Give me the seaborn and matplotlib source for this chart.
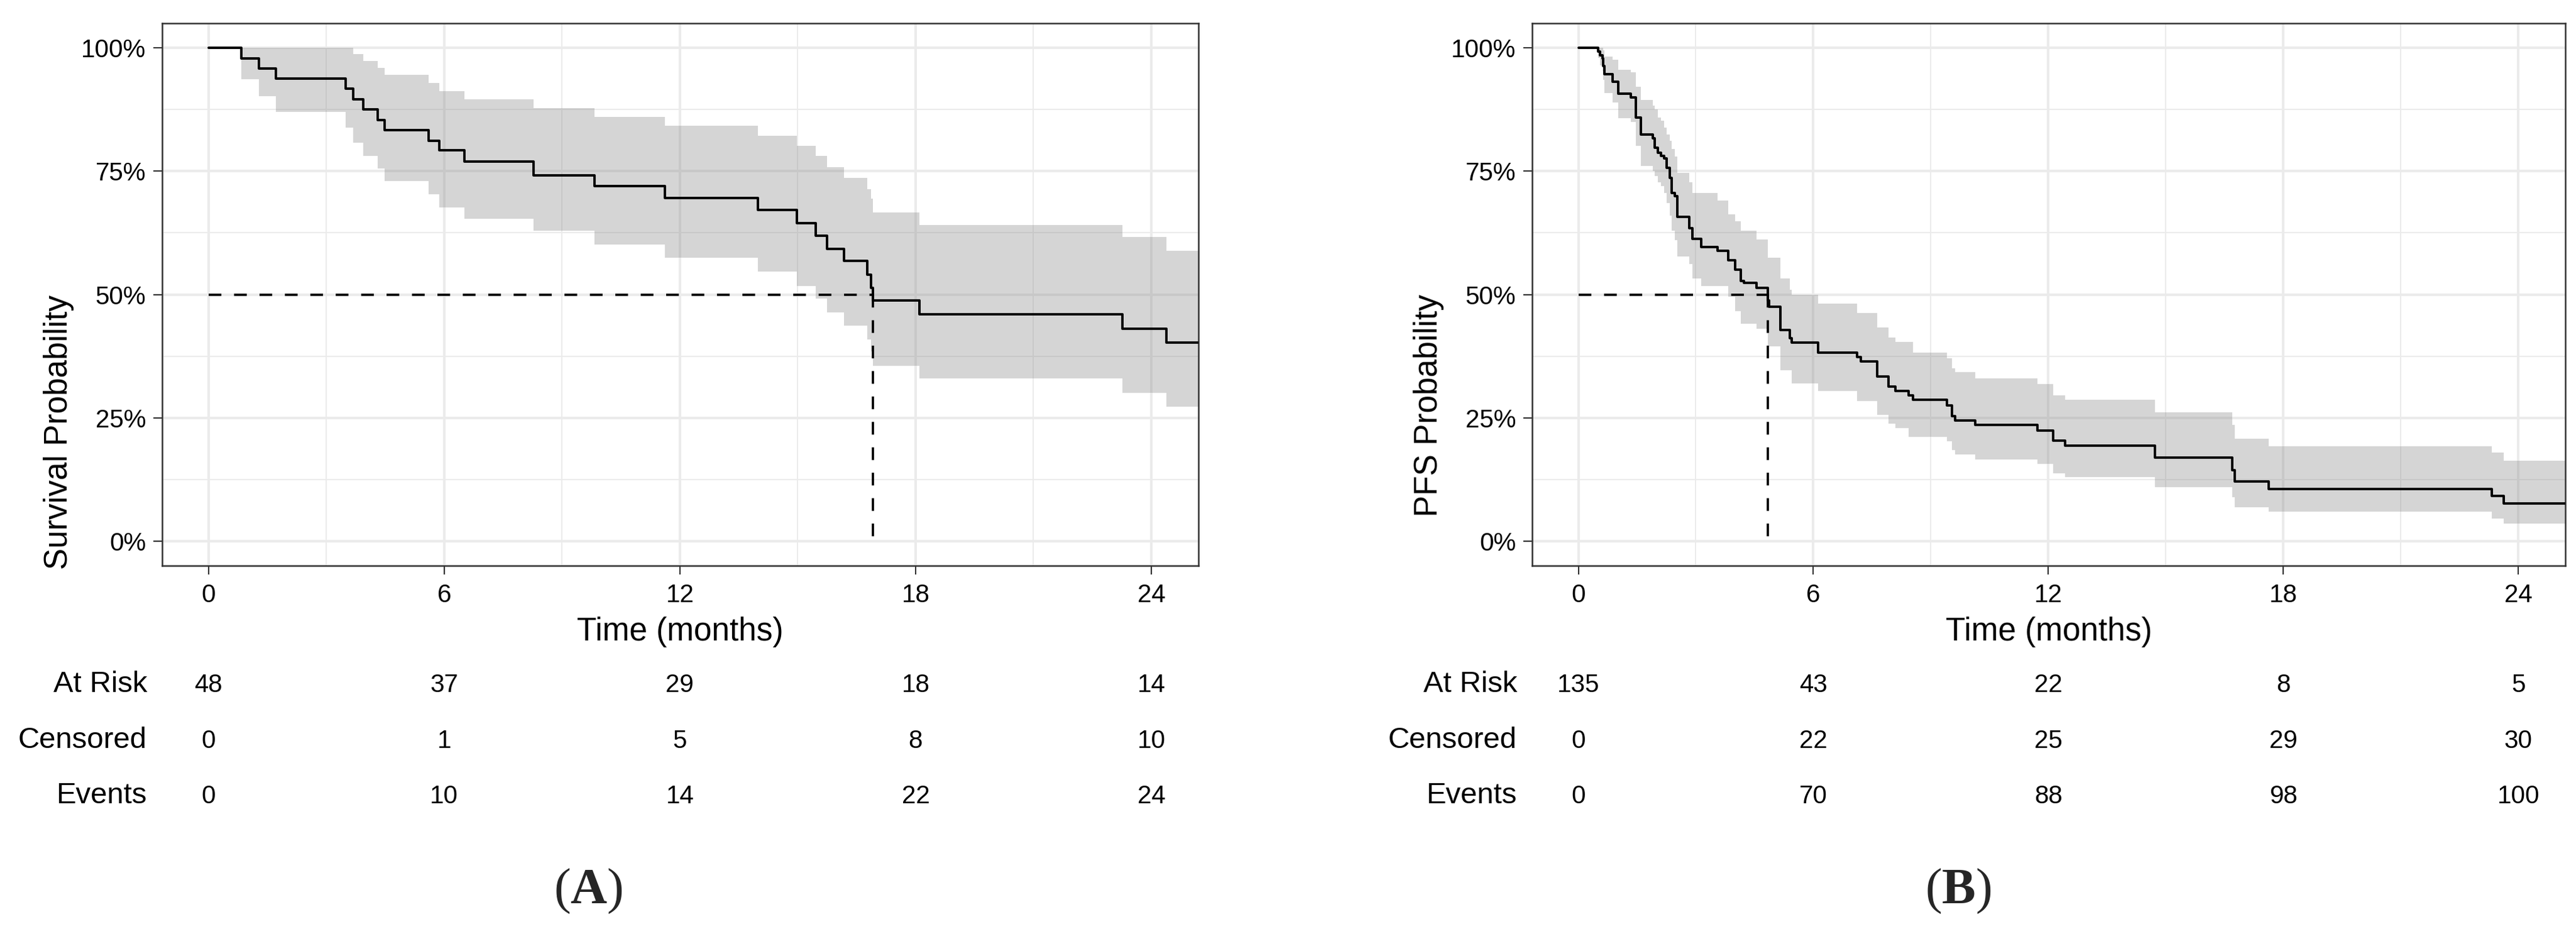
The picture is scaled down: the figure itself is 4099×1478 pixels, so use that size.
import numpy as np
import pandas as pd
import seaborn as sns
import matplotlib
matplotlib.use("Agg")
import matplotlib.pyplot as plt
from matplotlib.transforms import blended_transform_factory

#%% data (times in months, probabilities in %)
# (A) overall survival
os_time = [0, 0.84, 1.28, 1.72, 3.49, 3.68, 3.94, 4.30, 4.48, 5.60, 5.87, 6.51, 8.27,
           9.83, 11.62, 13.98, 14.97, 15.45, 15.74, 16.17, 16.77, 16.87, 16.92, 18.10,
           23.27, 24.38]
os_surv = [100, 97.9, 95.8, 93.8, 91.7, 89.6, 87.5, 85.4, 83.3, 81.2, 79.2, 77.0, 74.1,
           72.0, 69.6, 67.2, 64.5, 61.9, 59.3, 56.8, 54.0, 51.3, 48.8, 46.0, 43.1, 40.2]
os_upper = [100, 100, 100, 100, 100, 98.7, 97.4, 95.9, 94.5, 92.9, 91.2, 89.6, 87.8,
            86.0, 84.2, 82.2, 80.2, 78.1, 75.8, 73.6, 71.4, 69.5, 66.6, 64.1, 61.6, 58.8]
os_lower = [100, 93.7, 90.2, 87.0, 83.8, 80.8, 78.1, 75.5, 73.0, 70.3, 67.7, 65.3, 62.9,
            60.1, 57.4, 54.6, 51.7, 49.2, 46.4, 43.7, 40.9, 38.5, 35.5, 33.0, 30.1, 27.2]
os_last = 25.2
os_median = 16.92

# (B) progression free survival
pfs_time = [0, 0.51, 0.56, 0.61, 0.64, 0.67, 0.87, 1.02, 1.34, 1.47, 1.60, 1.90, 1.95,
            2.03, 2.11, 2.19, 2.25, 2.33, 2.38, 2.46, 2.53, 2.83, 2.91, 3.13, 3.56, 3.82,
            4.01, 4.14, 4.22, 4.55, 4.83, 4.87, 5.16, 5.40, 5.45, 6.12, 7.12, 7.21, 7.63,
            7.92, 8.10, 8.43, 8.55, 9.41, 9.54, 9.62, 10.13, 11.72, 12.12, 12.43, 14.72,
            16.70, 16.76, 17.63, 23.33, 23.63]
pfs_surv = [100, 99.3, 98.5, 97.8, 96.3, 94.7, 93.2, 90.7, 89.9, 85.9, 82.4, 81.7, 79.7,
            78.7, 78.1, 77.6, 75.7, 73.6, 70.6, 69.9, 65.7, 63.4, 61.3, 59.6, 58.8, 57.0,
            55.0, 52.8, 52.3, 51.3, 48.8, 47.5, 42.8, 41.2, 40.2, 38.2, 37.3, 36.4, 33.4,
            31.3, 30.4, 29.5, 28.6, 27.5, 25.3, 24.5, 23.5, 22.4, 20.4, 19.3, 16.9,
            14.4, 12.1, 10.6, 9.1, 7.6]
pfs_upper = [100, 100, 100, 100, 99.5, 98.3, 97.6, 95.6, 95.1, 92.1, 89.4, 88.3, 87.5,
             85.9, 85.3, 83.8, 82.5, 81.2, 79.5, 78.0, 74.7, 72.8, 70.6, 70.6, 69.0, 66.3,
             64.8, 63.0, 63.0, 61.2, 57.5, 57.5, 53.2, 51.0, 49.9, 48.2, 46.2, 46.2, 43.3,
             41.3, 40.4, 40.4, 38.2, 37.1, 35.0, 34.2, 33.0, 31.9, 29.5, 28.6, 26.1,
             23.5, 20.8, 19.2, 17.9, 16.3]
pfs_lower = [100, 98.0, 96.5, 95.3, 93.5, 90.9, 88.9, 85.8, 85.0, 80.1, 76.1, 75.0, 74.0,
             72.8, 72.0, 70.6, 68.5, 66.0, 63.0, 61.0, 57.7, 56.2, 53.3, 51.7, 51.7, 49.5,
             46.6, 44.1, 44.1, 43.0, 39.5, 39.5, 34.6, 34.6, 32.0, 30.4, 28.4, 28.4, 25.6,
             23.8, 22.9, 21.1, 21.1, 20.2, 18.4, 17.6, 16.6, 15.7, 13.8, 13.0, 10.9,
             8.9, 6.9, 5.9, 4.5, 3.5]
pfs_last = 25.2
pfs_median = 4.83

# risk tables
table_times = [0, 6, 12, 18, 24]
table_rows = ["At Risk", "Censored", "Events"]
os_at_risk = [48, 37, 29, 18, 14]
os_censored = [0, 1, 5, 8, 10]
os_events = [0, 10, 14, 22, 24]
pfs_at_risk = [135, 43, 22, 8, 5]
pfs_censored = [0, 22, 25, 29, 30]
pfs_events = [0, 70, 88, 98, 100]

#%% style
sns.set_style("white")
plt.rcParams['font.family'] = ['Liberation Sans', 'DejaVu Sans']
plt.rcParams['mathtext.fontset'] = 'custom'
plt.rcParams['mathtext.rm'] = 'Liberation Serif'
plt.rcParams['mathtext.bf'] = 'Liberation Serif:bold'

fig = plt.figure(figsize=(40.99, 14.78), dpi=100)
W, H = 4099, 1478
axA = fig.add_axes([258 / W, 1 - 900 / H, 1649 / W, 863 / H])
axB = fig.add_axes([2438 / W, 1 - 900 / H, 1644 / W, 863 / H])


def km_panel(ax, t, s, lo, up, last, median, ylab):
    df = pd.DataFrame({"time": np.append(t, last), "surv": np.append(s, s[-1]),
                       "lower": np.append(lo, lo[-1]), "upper": np.append(up, up[-1])})
    ax.fill_between(df["time"], df["lower"], df["upper"], step="post",
                    color="#7F7F7F", alpha=0.32, lw=0, zorder=2)
    sns.lineplot(data=df, x="time", y="surv", ax=ax, estimator=None, sort=False,
                 drawstyle="steps-post", color="black", lw=2.8, zorder=4)
    # median lines
    ax.plot([0, median], [50, 50], color="black", lw=2.6, dashes=(5.6, 5.6), zorder=3)
    ax.plot([median, median], [50, 0], color="black", lw=2.6, dashes=(5.6, 5.6), zorder=3)

    ax.set_xlim(-1.18, 25.2)
    ax.set_ylim(-5, 105)
    ax.set_xticks([0, 6, 12, 18, 24])
    ax.set_xticks([3, 9, 15, 21], minor=True)
    ax.set_yticks([0, 25, 50, 75, 100])
    ax.set_yticks([12.5, 37.5, 62.5, 87.5], minor=True)
    ax.set_yticklabels(["%d%%" % v for v in [0, 25, 50, 75, 100]])
    ax.grid(which="major", color="#EBEBEB", lw=2.9, zorder=0)
    ax.grid(which="minor", color="#EBEBEB", lw=1.4, zorder=0)
    ax.set_axisbelow(True)
    ax.tick_params(which="major", length=10, width=1.5, color="#333333",
                   labelsize=29, labelcolor="black")
    ax.tick_params(axis="x", which="major", pad=10.5, bottom=True)
    ax.tick_params(axis="y", which="major", pad=8.5, left=True)
    ax.tick_params(which="minor", length=0)
    for sp in ax.spines.values():
        sp.set_color("#333333")
        sp.set_linewidth(1.8)

    ax.set_xlabel("Time (months)", fontsize=37, color="black")
    ax.xaxis.set_label_coords(0.5, -0.1379)
    ax.xaxis.label.set_va("baseline")
    ax.set_ylabel(ylab, fontsize=37, color="black")
    ax.yaxis.set_label_coords(-0.1, 0.5)
    ax.yaxis.label.set_ha("right")
    ax.yaxis.label.set_va("center")


def risk_table(ax, rows):
    baselines = [1 - 1101 / H, 1 - 1190 / H, 1 - 1278 / H]
    tr_lab = blended_transform_factory(ax.transAxes, fig.transFigure)
    tr_num = blended_transform_factory(ax.transData, fig.transFigure)
    for name, vals, yb in zip(table_rows, rows, baselines):
        ax.text(-0.0146, yb, name, transform=tr_lab, ha="right", va="baseline",
                fontsize=34, color="black")
        for tt, v in zip(table_times, vals):
            ax.text(tt, yb, str(v), transform=tr_num, ha="center", va="baseline",
                    fontsize=29, color="black")


km_panel(axA, os_time, os_surv, os_lower, os_upper, os_last, os_median,
         "Survival Probability")
km_panel(axB, pfs_time, pfs_surv, pfs_lower, pfs_upper, pfs_last, pfs_median,
         "PFS Probability")
risk_table(axA, [os_at_risk, os_censored, os_events])
risk_table(axB, [pfs_at_risk, pfs_censored, pfs_events])

fig.text(936 / W, 1 - 1437 / H, r"$\mathrm{(}\mathbf{A}\mathrm{)}$", ha="center",
         va="baseline", fontsize=58)
fig.text(3116 / W, 1 - 1437 / H, r"$\mathrm{(}\mathbf{B}\mathrm{)}$", ha="center",
         va="baseline", fontsize=58)

fig.savefig("out.png", dpi=100, facecolor="white")
